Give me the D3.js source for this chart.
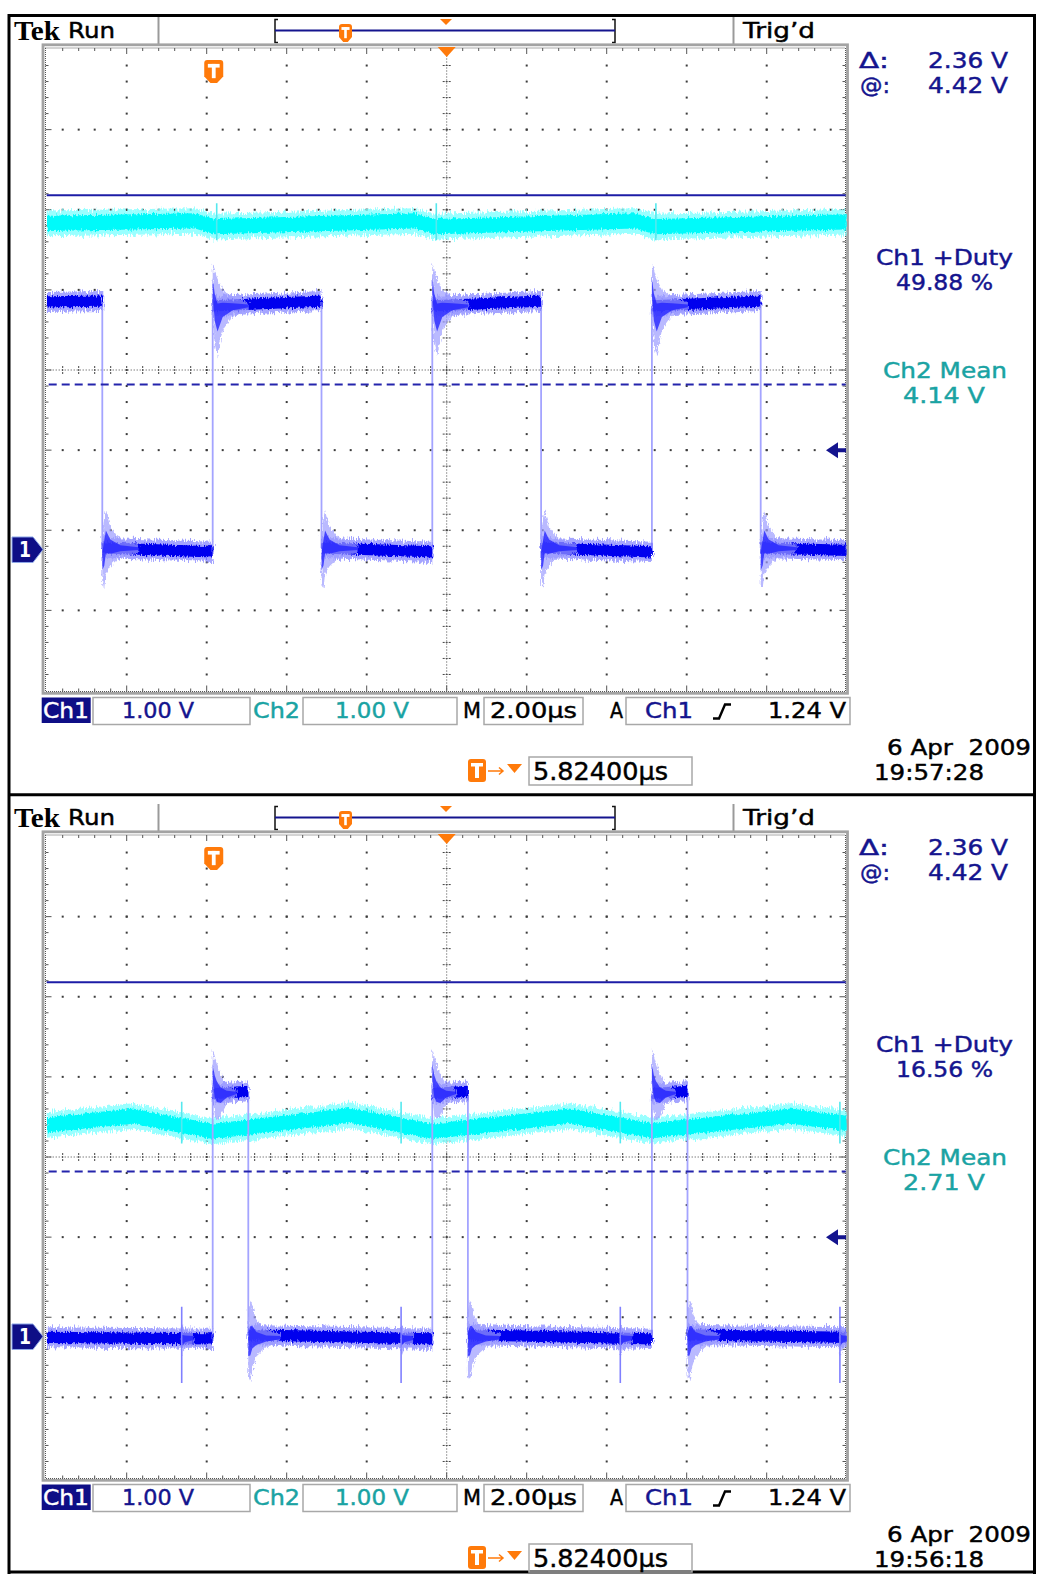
<!DOCTYPE html>
<html>
<head>
<meta charset="utf-8">
<script src="https://cdn.jsdelivr.net/npm/d3@7"></script>
<style>
  body { margin: 0; background: #fff; }
  svg text { white-space: pre; }
</style>
</head>
<body>
<svg id="chart"></svg>
<script>
// time in µs from the left edge of the screen, levels in volts (1 V/div on both channels)
const trigTime = 4.176;
const trigLevel = 1.24;
const cursorVolts = [4.42, 2.06];

// upper capture, 19:57:28
const p1Ch1 = [[0, 3.09], [1.39, 3.10], [1.39, 0.02], [4.15, -0.03], [4.15, 3.04], [6.87, 3.10],
  [6.87, 0.02], [9.64, -0.03], [9.64, 3.04], [12.36, 3.10], [12.36, 0.02], [15.13, -0.03],
  [15.13, 3.04], [17.85, 3.10], [17.85, 0.02], [20, -0.01]];
const p1Rise = [4.15, 9.64, 15.13];
const p1Fall = [1.39, 6.87, 12.36, 17.85];
const p1RiseRing = [[0, 3.57, 3.00], [0.05, 3.50, 2.55], [0.12, 3.38, 2.41], [0.25, 3.24, 2.74], [0.5, 3.15, 2.91], [0.9, 3.09, 2.99]];
const p1FallRing = [[0, 0.15, -0.45], [0.05, 0.40, -0.48], [0.09, 0.49, -0.30], [0.2, 0.28, -0.21], [0.45, 0.12, -0.09], [0.9, 0.06, -0.04]];
const p1Ch2 = [[0, 4.07], [3.7, 4.10], [4.2, 4.03], [9.2, 4.10], [9.7, 4.03], [14.7, 4.10], [15.2, 4.03], [20, 4.09]];
const p1Ch2Spikes = [4.25, 9.74, 15.23];
const p1Ch2SpikeRange = [4.32, 3.86];

// lower capture, 19:56:18
const p2Ch1 = [[0, -0.01], [4.15, -0.03], [4.15, 3.03], [5.04, 3.06], [5.04, 0.02], [9.64, -0.03],
  [9.64, 3.03], [10.53, 3.06], [10.53, 0.02], [15.13, -0.03], [15.13, 3.03], [16.02, 3.06],
  [16.02, 0.02], [20, -0.01]];
const p2Rise = [4.15, 9.64, 15.13];
const p2Fall = [5.04, 10.53, 16.02];
const p2RiseRing = [[0, 3.59, 3.00], [0.05, 3.50, 2.75], [0.1, 3.42, 2.70], [0.2, 3.28, 2.74], [0.35, 3.14, 2.91], [0.6, 3.08, 3.00]];
const p2FallRing = [[0, 0.30, -0.50], [0.05, 0.45, -0.56], [0.1, 0.38, -0.40], [0.2, 0.20, -0.25], [0.45, 0.08, -0.13], [0.8, 0.04, -0.07]];
const p2Glitch = [3.375, 8.86, 14.34, 19.83];
const p2GlitchRange = [0.37, -0.58];
const p2GlitchRing = [[0, 0.15, -0.25], [0.08, 0.09, -0.15], [0.3, 0.05, -0.09]];
const p2Ch2 = [[0, 2.64], [2.15, 2.75], [4.15, 2.56], [7.6, 2.76], [9.64, 2.56], [13.08, 2.75], [15.13, 2.57], [18.6, 2.75], [20, 2.66]];
const p2Ch2Spikes = [3.375, 8.86, 14.34, 19.83];
const p2Ch2SpikeRange = [2.93, 2.41];

const panels = [
  { top: 0, ch1: p1Ch1, rise: p1Rise, fall: p1Fall, riseRing: p1RiseRing, fallRing: p1FallRing,
    glitch: [], glitchRange: null, glitchRing: null,
    ch2: p1Ch2, ch2Spikes: p1Ch2Spikes, ch2SpikeRange: p1Ch2SpikeRange,
    duty: "49.88 %", mean: "4.14 V", date: "6 Apr  2009", time: "19:57:28" },
  { top: 787, ch1: p2Ch1, rise: p2Rise, fall: p2Fall, riseRing: p2RiseRing, fallRing: p2FallRing,
    glitch: p2Glitch, glitchRange: p2GlitchRange, glitchRing: p2GlitchRing,
    ch2: p2Ch2, ch2Spikes: p2Ch2Spikes, ch2SpikeRange: p2Ch2SpikeRange,
    duty: "16.56 %", mean: "2.71 V", date: "6 Apr  2009", time: "19:56:18" }
];

const NAVY = "#14148e";
const TEAL = "#1aa3a3";
const ORANGE = "#ff7a0a";

const W = 1037, H = 1574;
const svg = d3.select("#chart").attr("width", W).attr("height", H);

const x = d3.scaleLinear().domain([0, 20]).range([46.7, 846.7]);
const y = d3.scaleLinear().domain([-1.76, 6.24]).range([690.5, 49.5]);
const gx = d3.scaleLinear().domain([0, 10]).range([46.7, 846.7]);
const gy = d3.scaleLinear().domain([0, 8]).range([49.5, 690.5]);

const defs = svg.append("defs");
function noiseFilter(id, freq, scale, seed) {
  const f = defs.append("filter").attr("id", id).attr("filterUnits", "userSpaceOnUse")
    .attr("x", -50).attr("y", -100).attr("width", 1150).attr("height", 1800);
  f.append("feTurbulence").attr("type", "fractalNoise").attr("baseFrequency", freq)
    .attr("numOctaves", 2).attr("seed", seed).attr("result", "n");
  f.append("feDisplacementMap").attr("in", "SourceGraphic").attr("in2", "n")
    .attr("scale", scale).attr("xChannelSelector", "R").attr("yChannelSelector", "G");
}
noiseFilter("fzA", "0.9 0.12", 10, 3);
noiseFilter("fzB", "0.8 0.2", 6, 7);

// outer frames
svg.append("g").attr("stroke", "#000").attr("fill", "none").attr("stroke-width", 3)
  .call(s => {
    s.append("line").attr("x1", 9).attr("x2", 1035).attr("y1", 15.5).attr("y2", 15.5);
    s.append("line").attr("x1", 9).attr("x2", 1035).attr("y1", 794.7).attr("y2", 794.7);
    s.append("line").attr("x1", 9).attr("x2", 1035).attr("y1", 1572).attr("y2", 1572);
    s.append("line").attr("x1", 9).attr("x2", 9).attr("y1", 14).attr("y2", 1574);
    s.append("line").attr("x1", 1034.5).attr("x2", 1034.5).attr("y1", 14).attr("y2", 1574);
  });

function txt(g, s, px, py, len, opts = {}) {
  const fill = opts.fill || "#000";
  return g.append("text").text(s).attr("x", px).attr("y", py)
    .style("font-family", opts.family || "'DejaVu Sans', sans-serif")
    .style("font-size", (opts.size || 22) + "px")
    .style("font-weight", opts.weight || "normal")
    .attr("fill", fill)
    .attr("stroke", opts.weight ? "none" : fill).attr("stroke-width", 0.45)
    .attr("text-anchor", opts.anchor || "start")
    .attr("textLength", len).attr("lengthAdjust", "spacingAndGlyphs");
}

function tMarker(g, cx, top, w, h) {
  const hw = w / 2;
  g.append("path").attr("fill", ORANGE)
    .attr("d", `M${cx - hw},${top + 3} Q${cx - hw},${top} ${cx - hw + 3},${top} H${cx + hw - 3} Q${cx + hw},${top} ${cx + hw},${top + 3} V${top + h * 0.72} L${cx + hw * 0.35},${top + h} H${cx - hw * 0.35} L${cx - hw},${top + h * 0.72} Z`);
  g.append("rect").attr("fill", "#fff").attr("x", cx - hw * 0.62).attr("y", top + h * 0.17)
    .attr("width", hw * 1.24).attr("height", Math.max(2, h * 0.16));
  g.append("rect").attr("fill", "#fff").attr("x", cx - hw * 0.2).attr("y", top + h * 0.17)
    .attr("width", hw * 0.4).attr("height", h * 0.62);
}

function drawPanel(p, idx) {
  const g = svg.append("g").attr("transform", `translate(0,${p.top})`);

  // ---- status line
  txt(g, "Tek", 14, 40, 46, { family: "'Liberation Serif', serif", weight: "bold", size: 28 });
  txt(g, "Run", 68, 38, 47);
  g.append("g").attr("stroke", "#9a9a9a").attr("stroke-width", 2).call(s => {
    s.append("line").attr("x1", 158.5).attr("x2", 158.5).attr("y1", 17).attr("y2", 44);
    s.append("line").attr("x1", 733.5).attr("x2", 733.5).attr("y1", 17).attr("y2", 44);
  });
  txt(g, "Trig\u2019d", 743, 38, 72);
  g.append("path").attr("fill", "none").attr("stroke", "#111").attr("stroke-width", 1.5)
    .attr("d", "M278,19.5 H275 V42.5 H278 M612,19.5 H615 V42.5 H612");
  g.append("line").attr("x1", 275).attr("x2", 615).attr("y1", 30.5).attr("y2", 30.5)
    .attr("stroke", NAVY).attr("stroke-width", 2);
  g.append("path").attr("fill", ORANGE).attr("d", "M440,19 H452 L446,25 Z");
  tMarker(g, 345.5, 24, 13, 18);

  // ---- graticule
  const grat = g.append("g");
  grat.append("rect").attr("x", 43).attr("y", 44.8).attr("width", 804.5).attr("height", 648.5)
    .attr("fill", "none").attr("stroke", "#a3a3a3").attr("stroke-width", 2.8);
  const dots = grat.append("g").attr("fill", "#3c3c3c");
  for (let i = 1; i < 10; i++) {
    if (i === 5) continue;
    dots.selectAll(null).data(d3.range(1, 40)).join("rect")
      .attr("x", gx(i) - 1).attr("y", k => gy(k / 5) - 1).attr("width", 2).attr("height", 2);
  }
  for (let j = 1; j < 8; j++) {
    if (j === 4) continue;
    dots.selectAll(null).data(d3.range(1, 50)).join("rect")
      .attr("x", k => gx(k / 5) - 1).attr("y", gy(j) - 1).attr("width", 2).attr("height", 2);
  }
  const cl = grat.append("g").attr("stroke", "#444").attr("stroke-width", 1);
  cl.append("line").attr("x1", gx(5)).attr("x2", gx(5)).attr("y1", gy(0)).attr("y2", gy(8)).attr("stroke-dasharray", "1 2");
  cl.append("line").attr("x1", gx(0)).attr("x2", gx(10)).attr("y1", gy(4)).attr("y2", gy(4)).attr("stroke-dasharray", "1 2");
  cl.selectAll(null).data(d3.range(1, 40)).join("line")
    .attr("x1", gx(5) - 4).attr("x2", gx(5) + 4).attr("y1", k => gy(k / 5)).attr("y2", k => gy(k / 5))
    .attr("stroke-dasharray", "2 1");
  cl.selectAll(null).data(d3.range(1, 50)).join("line")
    .attr("y1", gy(4) - 4).attr("y2", gy(4) + 4).attr("x1", k => gx(k / 5)).attr("x2", k => gx(k / 5))
    .attr("stroke-dasharray", "2 1");
  // edge rulers
  const er = grat.append("g").attr("stroke", "#555").attr("stroke-width", 1);
  er.append("path").attr("fill", "none").attr("stroke-dasharray", "1 1")
    .attr("d", `M45.5,48 H845.5 V691.5 H45.5 Z`);
  er.selectAll(null).data(d3.range(1, 50)).join("path").attr("fill", "none")
    .attr("d", k => `M${gx(k / 5)},48 v${k % 5 ? 3 : 6} M${gx(k / 5)},691.5 v${k % 5 ? -3 : -6}`);
  er.selectAll(null).data(d3.range(1, 40)).join("path").attr("fill", "none")
    .attr("d", k => `M45.5,${gy(k / 5)} h${k % 5 ? 3 : 6} M845.5,${gy(k / 5)} h${k % 5 ? -3 : -6}`);

  // trigger position markers on graticule
  g.append("path").attr("fill", ORANGE).attr("d", `M${gx(5) - 9},47 H${gx(5) + 9} L${gx(5)},57 Z`);
  tMarker(g, x(trigTime), 60, 19, 23);

  // ---- traces
  const clipId = "clip" + idx;
  defs.append("clipPath").attr("id", clipId).append("rect")
    .attr("x", gx(0)).attr("y", gy(0)).attr("width", gx(10) - gx(0)).attr("height", gy(8) - gy(0));
  const tr = g.append("g").attr("clip-path", `url(#${clipId})`);

  const bandArea = hw => d3.area().x(d => x(d[0])).y0(d => y(d[1] - hw)).y1(d => y(d[1] + hw));
  const envArea = d3.area().x(d => x(d[0])).y0(d => y(d[2])).y1(d => y(d[1]));
  const innerArea = d3.area().x(d => x(d[0]))
    .y0(d => y((d[1] + d[2]) / 2 - (d[1] - d[2]) * 0.18))
    .y1(d => y((d[1] + d[2]) / 2 + (d[1] - d[2]) * 0.18));

  // channel 2 (cyan)
  const c2 = tr.append("g");
  c2.append("path").datum(p.ch2).attr("d", bandArea(0.16)).attr("fill", "#80ffff").attr("opacity", 0.8).attr("filter", "url(#fzA)");
  c2.append("path").datum(p.ch2).attr("d", bandArea(0.095)).attr("fill", "#00fafa").attr("filter", "url(#fzB)");
  c2.selectAll(null).data(p.ch2Spikes).join("line")
    .attr("x1", d => x(d)).attr("x2", d => x(d))
    .attr("y1", y(p.ch2SpikeRange[0])).attr("y2", y(p.ch2SpikeRange[1]))
    .attr("stroke", "#55e8ee").attr("stroke-width", 1.6);

  // channel 1 (blue)
  const c1 = tr.append("g");
  const levels = [], edges = [];
  for (let i = 0; i < p.ch1.length - 1; i++) {
    const a = p.ch1[i], b = p.ch1[i + 1];
    if (a[0] === b[0]) edges.push([a[0], a[1], b[1]]);
    else levels.push([a, b]);
  }
  c1.selectAll(null).data(edges).join("line")
    .attr("x1", d => x(d[0])).attr("x2", d => x(d[0]))
    .attr("y1", d => y(d[1])).attr("y2", d => y(d[2]))
    .attr("stroke", "#a4a4ff").attr("stroke-width", 1.8);
  c1.selectAll(null).data(levels).join("path").attr("d", bandArea(0.125))
    .attr("fill", "#6a6aff").attr("opacity", 0.6).attr("filter", "url(#fzA)");
  c1.selectAll(null).data(levels).join("path").attr("d", bandArea(0.07))
    .attr("fill", "#0606ee").attr("filter", "url(#fzB)");

  const rings = [];
  p.rise.forEach(t => rings.push(p.riseRing.map(([dt, hi, lo]) => [t + dt, hi, lo])));
  p.fall.forEach(t => rings.push(p.fallRing.map(([dt, hi, lo]) => [t + dt, hi, lo])));
  if (p.glitchRing) p.glitch.forEach(t => rings.push(p.glitchRing.map(([dt, hi, lo]) => [t + dt, hi, lo])));
  c1.selectAll(null).data(rings).join("path").attr("d", envArea)
    .attr("fill", "#9c9cff").attr("opacity", 0.7).attr("filter", "url(#fzB)");
  c1.selectAll(null).data(rings).join("path").attr("d", innerArea)
    .attr("fill", "#1d1dff").attr("opacity", 0.75);
  if (p.glitchRange) {
    c1.selectAll(null).data(p.glitch).join("line")
      .attr("x1", d => x(d)).attr("x2", d => x(d))
      .attr("y1", y(p.glitchRange[0])).attr("y2", y(p.glitchRange[1]))
      .attr("stroke", "#8080ff").attr("stroke-width", 1.6);
  }

  // cursors
  g.append("line").attr("x1", gx(0)).attr("x2", gx(10) - 1).attr("y1", y(cursorVolts[0])).attr("y2", y(cursorVolts[0]))
    .attr("stroke", "#1c1ca6").attr("stroke-width", 2);
  g.append("line").attr("x1", gx(0) + 2).attr("x2", gx(10) - 1).attr("y1", y(cursorVolts[1])).attr("y2", y(cursorVolts[1]))
    .attr("stroke", "#2424ac").attr("stroke-width", 2).attr("stroke-dasharray", "8 5");

  // trigger level arrow
  const ty = y(trigLevel);
  g.append("path").attr("fill", NAVY)
    .attr("d", `M826,${ty} L838,${ty - 8} V${ty - 2} H846 V${ty + 2} H838 V${ty + 8} Z`);

  // channel 1 ground marker
  const gy0 = y(0);
  g.append("path").attr("fill", "#0e0e86").attr("stroke", "#8fa8e8").attr("stroke-width", 1)
    .attr("d", `M12,${gy0 - 12.5} H33 L43,${gy0} L33,${gy0 + 13} H12 Z`);
  txt(g, "1", 19, gy0 + 8, 12, { fill: "#fff", size: 22, weight: "bold" });

  // ---- right readouts
  txt(g, "\u0394:", 859, 68, 30, { fill: NAVY });
  txt(g, "2.36 V", 928, 68, 80, { fill: NAVY });
  txt(g, "@:", 860, 93, 30, { fill: NAVY });
  txt(g, "4.42 V", 928, 93, 80, { fill: NAVY });
  txt(g, "Ch1 +Duty", 876, 265, 137, { fill: NAVY });
  txt(g, p.duty, 896, 290, 97, { fill: NAVY });
  txt(g, "Ch2 Mean", 883, 378, 124, { fill: TEAL });
  txt(g, p.mean, 903, 403, 82, { fill: TEAL });

  // ---- bottom settings line
  const box = (bx, by, bw, bh) => g.append("rect").attr("x", bx).attr("y", by).attr("width", bw).attr("height", bh)
    .attr("fill", "none").attr("stroke", "#a8a8a8").attr("stroke-width", 1.5);
  g.append("rect").attr("x", 41.7).attr("y", 697.5).attr("width", 49).attr("height", 25.5).attr("fill", "#0e0e86");
  txt(g, "Ch1", 43, 718, 46, { fill: "#fff" });
  box(93, 697.5, 157, 27);
  txt(g, "1.00 V", 158, 718, 72, { fill: NAVY, anchor: "middle" });
  txt(g, "Ch2", 253, 718, 47, { fill: TEAL });
  box(303, 697.5, 154, 27);
  txt(g, "1.00 V", 372, 718, 74, { fill: TEAL, anchor: "middle" });
  txt(g, "M", 463, 718, 18);
  box(484, 697.5, 99, 27);
  txt(g, "2.00\u00b5s", 490, 718, 87);
  txt(g, "A", 610, 718, 13);
  box(626, 697.5, 224, 27);
  txt(g, "Ch1", 645, 718, 48, { fill: NAVY });
  g.append("path").attr("fill", "none").attr("stroke", "#000").attr("stroke-width", 2.4)
    .attr("d", "M713,718.5 H719 L725,704.5 H731");
  txt(g, "1.24 V", 768, 718, 78);

  txt(g, p.date, 887, 755, 144);
  txt(g, p.time, 874, 780, 110);

  // trigger offset readout
  g.append("rect").attr("x", 468).attr("y", 759).attr("width", 18).attr("height", 23).attr("rx", 3).attr("fill", ORANGE);
  g.append("rect").attr("x", 471).attr("y", 763).attr("width", 12).attr("height", 3.5).attr("fill", "#fff");
  g.append("rect").attr("x", 475).attr("y", 763).attr("width", 4).attr("height", 15).attr("fill", "#fff");
  g.append("path").attr("fill", "none").attr("stroke", ORANGE).attr("stroke-width", 1.5)
    .attr("d", "M488,771 H503 M499,767.5 L503,771 L499,774.5");
  g.append("path").attr("fill", ORANGE).attr("d", "M507,764 H522 L514.5,773 Z");
  box(529, 757, 163, 28);
  txt(g, "5.82400\u00b5s", 533, 780, 135, { size: 25 });
}

panels.forEach(drawPanel);
</script>
</body>
</html>
